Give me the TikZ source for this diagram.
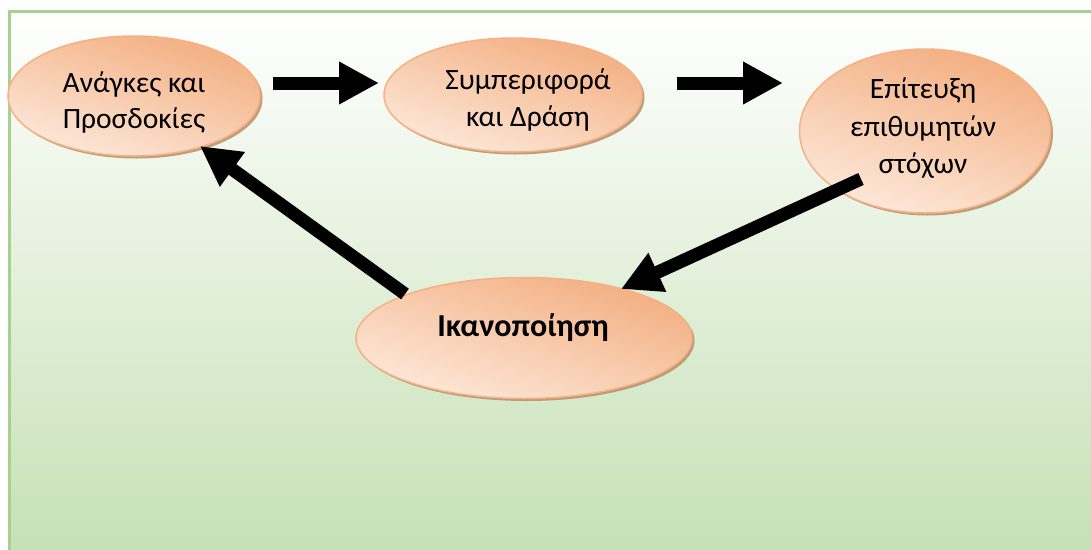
\documentclass[tikz,border=0pt]{standalone}
\usepackage{fontspec}
\setmainfont{Carlito}
\usetikzlibrary{shapes.geometric,arrows.meta,shadows}
\definecolor{frameG}{HTML}{A9D18E}
\definecolor{bgG}{HTML}{C5E0B4}
\definecolor{eBorder}{HTML}{F4B183}
\definecolor{eDark}{HTML}{F3AE80}
\definecolor{eLight}{HTML}{FDE8DA}
\definecolor{eShadow}{HTML}{B88E68}
\tikzset{
  blob/.style={ellipse, draw=eBorder, line width=1.5pt, top color=eDark, bottom color=eLight,
    shading angle=-18, inner sep=0pt,
    drop shadow={shadow xshift=2.5pt, shadow yshift=-2.5pt, fill=eShadow, opacity=0.85}},
  txt/.style={font=\fontsize{29.5}{35}\selectfont, anchor=base, inner sep=0pt, text=black},
  blockarrow/.style={line width=13pt, black, -{Triangle[length=40pt, width=40pt]}}
}
\begin{document}
\begin{tikzpicture}[x=1pt,y=-1pt]
\useasboundingbox (0,0) rectangle (1091,549);
\shade[top color=white, bottom color=bgG] (9,11) rectangle (1100,560);
\draw[frameG, line width=3pt] (9,11) rectangle (1100,560);

% ellipses
\node[blob, minimum width=252pt, minimum height=120pt] (needs) at (134,96) {};
\node[blob, minimum width=258pt, minimum height=114pt] (behav) at (513,95) {};
\node[blob, minimum width=251pt, minimum height=164pt] (goals) at (925,131) {};
\node[blob, minimum width=336pt, minimum height=121pt] (satis) at (524,338) {};

% texts
\node[txt] (t1a) at (134,92) {Ανάγκες και};
\node[txt] (t1b) at (134,128) {Προσδοκίες};
\node[txt] (t2a) at (528,89) {Συμπεριφορά};
\node[txt] (t2b) at (528,126) {και Δράση};
\node[txt] (t3a) at (923,98) {Επίτευξη};
\node[txt] (t3b) at (923,136) {επιθυμητών};
\node[txt] (t3c) at (923,173) {στόχων};
\node[txt, font=\fontsize{32}{36}\selectfont\bfseries] (t4) at (523,336) {Ικανοποίηση};

% arrow end points
\coordinate (a1s) at (273,83);
\coordinate (a1e) at (379,83);
\coordinate (a2s) at (677,83);
\coordinate (a2e) at (783,83);
\coordinate (a3s) at (861,179);
\coordinate (a3e) at (621,289);
\coordinate (a4s) at (405,294);
\coordinate (a4e) at (200,146);

\draw[blockarrow] (a1s) -- (a1e);
\draw[blockarrow] (a2s) -- (a2e);
\draw[blockarrow] (a3s) -- (a3e);
\draw[blockarrow] (a4s) -- (a4e);
\end{tikzpicture}
\end{document}
